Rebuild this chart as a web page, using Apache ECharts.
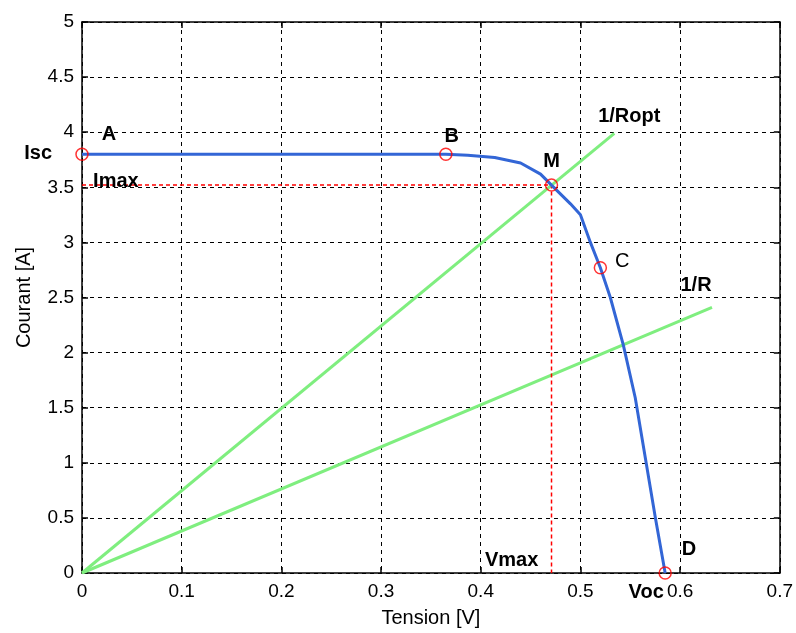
<!DOCTYPE html>
<html>
<head>
<meta charset="utf-8">
<script src="https://cdn.jsdelivr.net/npm/echarts@6/dist/echarts.min.js"></script>
<style>html,body{margin:0;padding:0;background:#fff;}#c{width:796px;height:633px;}</style>
</head>
<body>
<div id="c"></div>
<script>
// I-V curve of the solar cell
var tension = [0, 0.1, 0.2, 0.3, 0.365, 0.387, 0.414, 0.44, 0.46, 0.471, 0.49, 0.5, 0.51, 0.52, 0.53, 0.543, 0.555, 0.565, 0.575, 0.585];
var courant = [3.8, 3.8, 3.8, 3.8, 3.8, 3.79, 3.77, 3.72, 3.62, 3.52, 3.35, 3.25, 3.0, 2.77, 2.5, 2.07, 1.59, 1.05, 0.51, 0];
// Load lines
var roptLine = [[0, 0], [0.534, 3.99]];
var rLine = [[0, 0], [0.632, 2.41]];
// Maximum power point guides
var mppGuide = [[0, 3.52], [0.471, 3.52], [0.471, 0]];
// Marked points A, B, M, C, D
var markX = [0, 0.365, 0.471, 0.52, 0.585];
var markY = [3.8, 3.8, 3.52, 2.77, 0];
// Annotation texts
var labelNames = ['A', 'B', 'M', 'C', 'D', 'Isc', 'Imax', 'Vmax', 'Voc', '1/Ropt', '1/R'];
var labelX = [0.027, 0.371, 0.471, 0.542, 0.609, -0.044, 0.034, 0.431, 0.566, 0.549, 0.616];
var labelY = [3.98, 3.96, 3.73, 2.83, 0.21, 3.81, 3.55, 0.11, -0.18, 4.14, 2.61];
var labelBold = [true, true, true, false, true, true, true, true, true, true, true];
var xTicks = [0, 0.1, 0.2, 0.3, 0.4, 0.5, 0.6, 0.7];
var yTicks = [0, 0.5, 1, 1.5, 2, 2.5, 3, 3.5, 4, 4.5, 5];

var font = 'Liberation Sans, Arial, sans-serif';
var curve = tension.map(function (v, i) { return [v, courant[i]]; });
var marks = markX.map(function (v, i) { return [v, markY[i]]; });
var labels = labelNames.map(function (n, i) { return [labelX[i], labelY[i], i]; });
function fmt(v) { return String(Math.round(v * 10) / 10); }

var chart = echarts.init(document.getElementById('c'));
chart.setOption({
  animation: false,
  backgroundColor: '#fff',
  grid: { left: 82, right: 13, top: 22, bottom: 56 },
  xAxis: [{
    type: 'value', min: 0, max: 0.7, interval: 0.1,
    name: 'Tension [V]', nameLocation: 'middle', nameGap: 35,
    nameTextStyle: { fontFamily: font, fontSize: 20, color: '#000' },
    axisLine: { show: true, onZero: false, lineStyle: { color: '#000', width: 1.5 } },
    axisTick: { show: true, inside: true, length: 6, lineStyle: { color: '#000', width: 1.5 } },
    axisLabel: { margin: 9, fontFamily: font, fontSize: 19, color: '#000',
      formatter: function (v) { return xTicks.indexOf(Math.round(v * 10) / 10) >= 0 ? fmt(v) : ''; } },
    splitLine: { show: true, lineStyle: { color: '#000', type: [4, 4], width: 1 } }
  }, {
    type: 'value', min: 0, max: 0.7, interval: 0.1, position: 'top',
    axisLine: { show: true, onZero: false, lineStyle: { color: '#000', width: 1.5 } },
    axisTick: { show: true, inside: true, length: 6, lineStyle: { color: '#000', width: 1.5 } },
    axisLabel: { show: false }, splitLine: { show: false }
  }],
  yAxis: [{
    type: 'value', min: 0, max: 5, interval: 0.5,
    name: 'Courant [A]', nameLocation: 'middle', nameGap: 48, nameRotate: 90,
    nameTextStyle: { fontFamily: font, fontSize: 20, color: '#000' },
    axisLine: { show: true, onZero: false, lineStyle: { color: '#000', width: 1.5 } },
    axisTick: { show: true, inside: true, length: 6, lineStyle: { color: '#000', width: 1.5 } },
    axisLabel: { margin: 8, fontFamily: font, fontSize: 19, color: '#000',
      formatter: function (v) { return yTicks.indexOf(v) >= 0 ? String(v) : ''; } },
    splitLine: { show: true, lineStyle: { color: '#000', type: [4, 4], width: 1 } }
  }, {
    type: 'value', min: 0, max: 5, interval: 0.5, position: 'right',
    axisLine: { show: true, onZero: false, lineStyle: { color: '#000', width: 1.5 } },
    axisTick: { show: true, inside: true, length: 6, lineStyle: { color: '#000', width: 1.5 } },
    axisLabel: { show: false }, splitLine: { show: false }
  }],
  series: [
    { type: 'line', data: roptLine, symbol: 'none', lineStyle: { color: '#7fee7f', width: 3 }, z: 3 },
    { type: 'line', data: rLine, symbol: 'none', lineStyle: { color: '#7fee7f', width: 3 }, z: 3 },
    { type: 'line', data: mppGuide, symbol: 'none', lineStyle: { color: '#ff0000', width: 1.5, type: [4, 3] }, z: 4 },
    { type: 'line', data: curve, symbol: 'none', lineStyle: { color: '#3366d6', width: 3 }, z: 5 },
    { type: 'scatter', data: marks, symbol: 'circle', symbolSize: 12,
      itemStyle: { color: 'rgba(0,0,0,0)', borderColor: '#ff0000', borderWidth: 1.5 }, z: 6, clip: false },
    { type: 'custom', data: labels, z: 7, clip: false,
      renderItem: function (params, api) {
        var p = api.coord([api.value(0), api.value(1)]);
        var idx = api.value(2);
        return {
          type: 'text', x: p[0], y: p[1],
          style: {
            text: labelNames[idx], fill: '#000',
            font: (labelBold[idx] ? 'bold ' : '') + '20px ' + font,
            align: 'center', verticalAlign: 'middle'
          }
        };
      } }
  ]
});
</script>
</body>
</html>
